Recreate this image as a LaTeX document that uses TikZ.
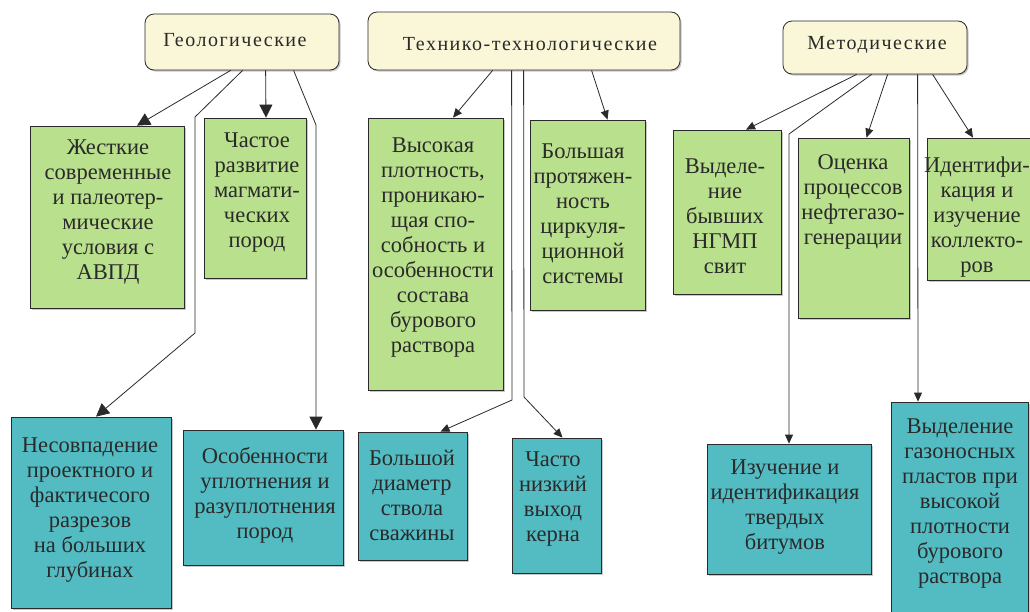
\documentclass[tikz,border=0pt]{standalone}
\usepackage{fontspec}
\setmainfont{Liberation Serif}
\usetikzlibrary{arrows.meta,shadows}
\definecolor{cream}{HTML}{FAF6D8}
\definecolor{leaf}{HTML}{B9E08C}
\definecolor{tealbox}{HTML}{53BCC3}
\definecolor{ink}{HTML}{2A2A2A}
\begin{document}
\begin{tikzpicture}[x=1pt,y=-1pt,
 shd/.style={copy shadow={shadow xshift=1.5pt, shadow yshift=-1.5pt, fill=black!22, draw=none}},
 hdr/.style={draw=ink, fill=cream, rounded corners=9pt, line width=0.8pt, inner sep=0pt, shd},
 gbox/.style={draw=ink, fill=leaf, line width=0.8pt, inner sep=0pt, shd},
 tbox/.style={draw=ink, fill=tealbox, line width=0.8pt, inner sep=0pt, shd},
 txt/.style={align=center, font=\fontsize{22.5}{25}\selectfont, text=ink, inner sep=0pt},
 htxt/.style={font=\fontsize{20}{24}\selectfont\addfontfeature{LetterSpace=7.5}, text=ink, inner sep=0pt},
 conn/.style={draw=ink, line width=0.8pt},
 bigarr/.style={conn, -{Triangle[length=13pt,width=13pt]}},
 smallarr/.style={conn, -{Triangle[length=9pt,width=8pt]}},
]
\useasboundingbox (0,0) rectangle (1030,611);
\clip (0,0) rectangle (1030,611);
\fill[white] (0,0) rectangle (1030,611);

% headers
\node[hdr, minimum width=194pt, minimum height=56pt] (geo) at (242,42) {};
\node[hdr, minimum width=312pt, minimum height=58pt] (tech) at (524,41) {};
\node[hdr, minimum width=184pt, minimum height=53pt] (met) at (875,47.5) {};
\node[htxt] (geot) at (235,40) {Геологические};
\node[htxt] (techt) at (530,44) {Технико-технологические};
\node[htxt] (mett) at (877,45) {Методические};

% green boxes
\node[gbox, minimum width=154pt, minimum height=182pt] (b1) at (107,217) {};
\node[gbox, minimum width=102pt, minimum height=160pt] (b2) at (255,198) {};
\node[gbox, minimum width=135pt, minimum height=272pt] (b3) at (435.5,254) {};
\node[gbox, minimum width=115pt, minimum height=190pt] (b4) at (587.5,215) {};
\node[gbox, minimum width=108pt, minimum height=164pt] (b5) at (727,212) {};
\node[gbox, minimum width=111pt, minimum height=180pt] (b6) at (853.5,228) {};
\node[gbox, minimum width=110pt, minimum height=142pt] (b7) at (982,209) {};
% teal boxes
\node[tbox, minimum width=160pt, minimum height=191pt] (b8) at (91,512.5) {};
\node[tbox, minimum width=160pt, minimum height=135pt] (b9) at (263,497.5) {};
\node[tbox, minimum width=109pt, minimum height=128pt] (b10) at (412.5,496) {};
\node[tbox, minimum width=89pt, minimum height=135pt] (b11) at (556.5,505.5) {};
\node[tbox, minimum width=164pt, minimum height=130pt] (b12) at (789,509) {};
\node[tbox, minimum width=137pt, minimum height=210pt] (b13) at (959.5,507) {};

% texts
\node[txt] (t1) at (108,212) {Жесткие\\современные\\и палеотер-\\мические\\условия с\\АВПД};
\node[txt] (t2) at (257,193) {Частое\\развитие\\магмати-\\ческих\\пород};
\node[txt] (t3) at (433,247.5) {Высокая\\плотность,\\проникаю-\\щая спо-\\собность и\\особенности\\состава\\бурового\\раствора};
\node[txt] (t4) at (583,213.5) {Большая\\протяжен-\\ность\\циркуля-\\ционной\\системы};
\node[txt] (t5) at (725,216) {Выделе-\\ние\\бывших\\НГМП\\свит};
\node[txt] (t6) at (853,201.5) {Оценка\\процессов\\нефтегазо-\\генерации};
\node[txt] (t7) at (977,217.5) {Идентифи-\\кация и\\изучение\\коллекто-\\ров};
\node[txt] (t8) at (90,510.5) {Несовпадение\\проектного и\\фактичесого\\разрезов\\на больших\\глубинах};
\node[txt] (t9) at (265,495) {Особенности\\уплотнения и\\разуплотнения\\пород};
\node[txt] (t10) at (412,495.5) {Большой\\диаметр\\ствола\\сважины};
\node[txt] (t11) at (553,499.5) {Часто\\низкий\\выход\\керна};
\node[txt] (t12) at (785,507.5) {Изучение и\\идентификация\\твердых\\битумов};
\node[txt] (t13) at (960,504) {Выделение\\газоносных\\пластов при\\высокой\\плотности\\бурового\\раствора};

% bend points
\coordinate (g8a) at (195,117);
\coordinate (g8b) at (195,333);
\coordinate (g9a) at (316,125);
\coordinate (k10) at (512,400);
\coordinate (k11) at (524,397);
\coordinate (m12) at (789,134);

% Geological connectors
\draw[bigarr] ([xshift=86pt]geo.south west) -- ([xshift=30pt]b1.north);
\draw[bigarr] ([xshift=98pt]geo.south west) -- (g8a) -- (g8b) -- ([xshift=5pt]b8.north);
\draw[bigarr] ([xshift=121pt]geo.south west) -- ([xshift=11pt]b2.north);
\draw[bigarr] ([xshift=149pt]geo.south west) -- (g9a) -- ([xshift=53pt]b9.north);
% Technical connectors
\draw[smallarr] ([xshift=125pt]tech.south west) -- ([xshift=17.5pt]b3.north);
\draw[smallarr] ([xshift=144pt]tech.south west) -- (k10) -- ([xshift=28pt]b10.north);
\draw[smallarr] ([xshift=156pt]tech.south west) -- (k11) -- ([xshift=6pt]b11.north);
\draw[smallarr] ([xshift=224pt]tech.south west) -- ([xshift=20pt]b4.north);
% Methodical connectors
\draw[smallarr] ([xshift=74pt]met.south west) -- ([xshift=19pt]b5.north);
\draw[smallarr] ([xshift=89pt]met.south west) -- (m12) -- (b12.north);
\draw[smallarr] ([xshift=105pt]met.south west) -- ([xshift=13pt]b6.north);
\draw[smallarr] ([xshift=135pt]met.south west) -- ([xshift=-41.5pt]b13.north);
\draw[smallarr] ([xshift=150pt]met.south west) -- ([xshift=-9pt]b7.north);
\end{tikzpicture}
\end{document}
